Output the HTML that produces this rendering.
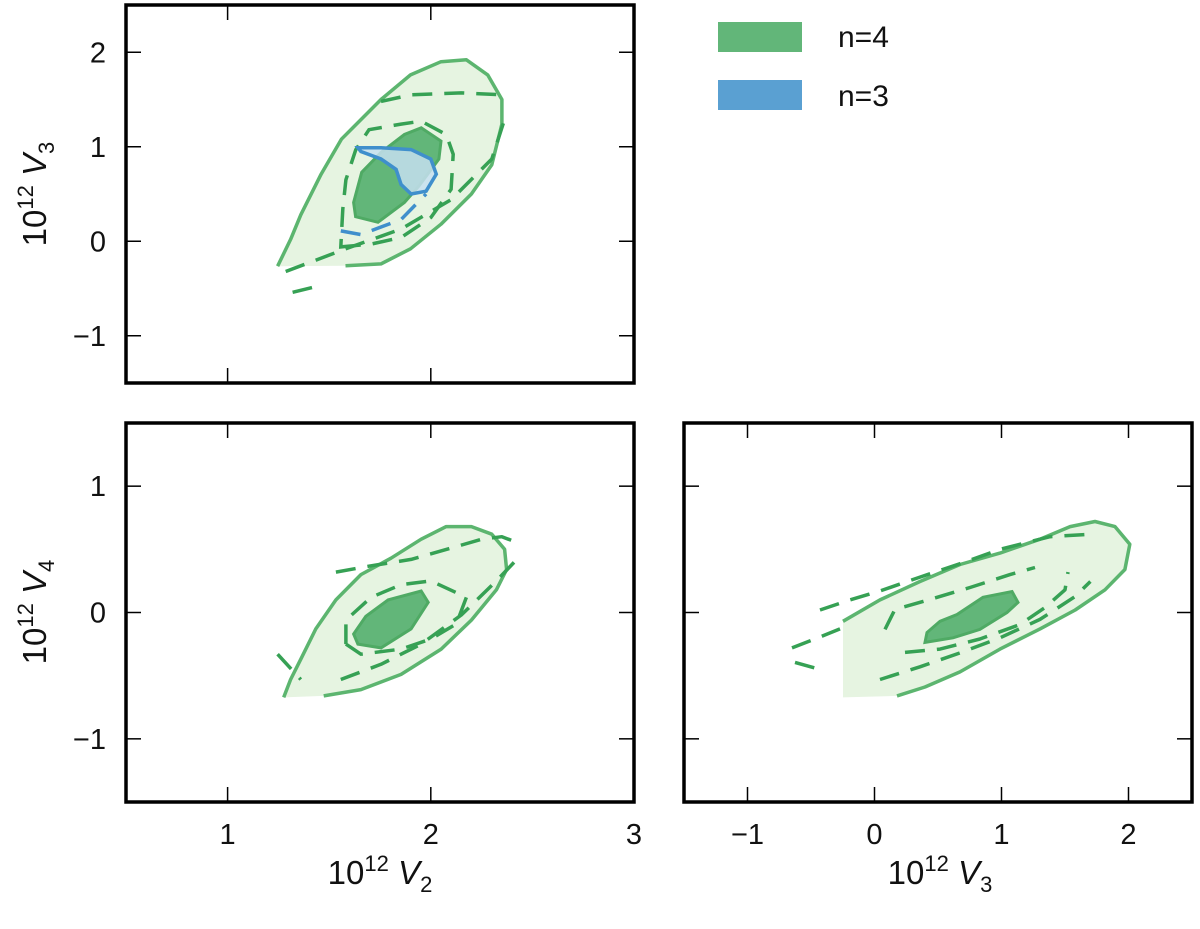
<!DOCTYPE html>
<html><head><meta charset="utf-8"><style>
html,body{margin:0;padding:0;background:#fff}
svg{display:block}
text{font-family:"Liberation Sans","DejaVu Sans",sans-serif;fill:#111}
</style></head><body>
<svg id="chart" width="1200" height="929" viewBox="0 0 1200 929" xmlns="http://www.w3.org/2000/svg"></svg>
<script>
// ---- data (data coordinates) ----
const tlXTicks=[1,2,3], tlYTicks=[-1,0,1,2];
const blXTicks=[1,2,3], blYTicks=[-1,0,1];
const brXTicks=[-1,0,1,2], brYTicks=[-1,0,1];
const xTickLabels=["1","2","3"], yTickLabelsTop=["\u22121","0","1","2"], yTickLabelsBot=["\u22121","0","1"], brXTickLabels=["\u22121","0","1","2"];

const tlOuterX=[1.246,1.31,1.36,1.46,1.56,1.755,1.90,2.05,2.175,2.28,2.35,2.35,2.30,2.20,2.05,1.90,1.755,1.58];
const tlOuterY=[-0.264,0.02,0.28,0.71,1.08,1.50,1.76,1.90,1.92,1.76,1.50,1.24,0.81,0.50,0.18,-0.08,-0.24,-0.26];
const tlInnerX=[1.953,2.05,2.04,1.94,1.87,1.74,1.63,1.62,1.66,1.755,1.87];
const tlInnerY=[1.20,1.06,0.87,0.58,0.41,0.20,0.26,0.41,0.73,0.94,1.13];
const tlDashAX=[1.286,1.582,1.854,2.10,2.30,2.363], tlDashAY=[-0.32,-0.08,0.13,0.44,0.87,1.29];
const tlDashBX=[1.32,1.434], tlDashBY=[-0.54,-0.48];
const tlDashCX=[1.755,1.903,2.15,2.35], tlDashCY=[1.48,1.55,1.57,1.55];
const tlRingX=[1.557,1.706,1.854,2.0,2.10,2.11,2.076,1.953,1.854,1.696,1.631,1.582,1.567,1.557];
const tlRingY=[-0.06,-0.03,0.04,0.25,0.55,0.92,1.13,1.27,1.24,1.18,0.97,0.65,0.34,-0.06];
const tlBlueX=[1.641,1.755,1.903,2.0,2.027,1.977,1.903,1.854,1.829,1.755,1.656];
const tlBlueY=[0.99,0.99,0.97,0.87,0.71,0.53,0.50,0.60,0.76,0.87,0.95];
const tlBlueDashX=[1.557,1.656,1.854,1.977], tlBlueDashY=[0.11,0.07,0.23,0.50];

const blOuterX=[1.276,1.31,1.36,1.434,1.533,1.656,1.804,1.953,2.076,2.20,2.30,2.363,2.373,2.323,2.20,2.051,1.854,1.656,1.473];
const blOuterY=[-0.672,-0.53,-0.37,-0.13,0.10,0.30,0.43,0.58,0.68,0.68,0.62,0.50,0.34,0.18,-0.06,-0.29,-0.49,-0.61,-0.66];
const blInnerX=[1.953,1.987,1.903,1.755,1.641,1.62,1.68,1.79];
const blInnerY=[0.17,0.08,-0.13,-0.28,-0.25,-0.17,-0.03,0.10];
const blDashAX=[1.533,1.706,1.903,2.10,2.25,2.35,2.447], blDashAY=[0.32,0.37,0.42,0.51,0.58,0.60,0.54];
const blDashBX=[1.557,1.755,1.953,2.15,2.323,2.447], blDashBY=[-0.53,-0.41,-0.25,-0.02,0.25,0.46];
const blRingX=[1.582,1.656,1.854,2.0,2.126,2.175,2.0,1.854,1.706,1.582,1.582];
const blRingY=[-0.25,-0.33,-0.29,-0.21,-0.09,0.12,0.25,0.22,0.12,-0.06,-0.25];
const blDashCX=[1.246,1.36], blDashCY=[-0.33,-0.53];

const brOuterX=[-0.248,-0.248,0.043,0.358,0.673,0.988,1.303,1.54,1.736,1.894,2.01,1.972,1.815,1.58,1.303,0.988,0.673,0.398,0.177];
const brOuterY=[-0.672,-0.07,0.10,0.245,0.38,0.47,0.58,0.68,0.72,0.68,0.54,0.34,0.18,0.02,-0.13,-0.29,-0.47,-0.59,-0.66];
const brInnerX=[1.083,1.13,1.043,0.83,0.618,0.398,0.413,0.516,0.65,0.854];
const brInnerY=[0.166,0.08,0,-0.134,-0.2,-0.237,-0.158,-0.07,-0.016,0.12];
const brDashAX=[-0.429,-0.193,0.043,0.358,0.713,0.988,1.382,1.70], brDashAY=[0.02,0.10,0.17,0.28,0.40,0.50,0.60,0.62];
const brDashBX=[0.043,0.358,0.673,0.988,1.303,1.579,1.70], brDashBY=[-0.53,-0.43,-0.32,-0.20,-0.055,0.126,0.245];
const brDashCX=[0.083,0.161,0.437,0.752,1.067,1.264], brDashCY=[-0.134,0.024,0.103,0.198,0.30,0.356];
const brDashDX=[0.24,0.516,0.83,1.146,1.343,1.5,1.524], brDashDY=[-0.316,-0.29,-0.21,-0.095,0.04,0.18,0.32];
const brDashEX=[-0.65,-0.469,-0.272], brDashEY=[-0.28,-0.21,-0.13];
const brDashFX=[-0.626,-0.429], brDashFY=[-0.395,-0.45];

// ---- drawing ----
const svg=document.getElementById('chart');
const NS='http://www.w3.org/2000/svg';
function mk(tag,attrs,parent){const e=document.createElementNS(NS,tag);for(const k in attrs)e.setAttribute(k,attrs[k]);(parent||svg).appendChild(e);return e;}
function panel(name,L,T,R,B,x0,x1,y0,y1){
  const g=mk('g',{});
  
  
  const sx=v=>L+(v-x0)/(x1-x0)*(R-L), sy=v=>B-(v-y0)/(y1-y0)*(B-T);
  return {g,sx,sy,L,T,R,B};
}
function pts(p,xs,ys){return xs.map((x,i)=>p.sx(x).toFixed(1)+','+p.sy(ys[i]).toFixed(1)).join(' ');}
function poly(p,xs,ys,style,name){const e=mk('polygon',Object.assign({points:pts(p,xs,ys)},style),p.g);return e;}
function line(p,xs,ys,style,name){const e=mk('polyline',Object.assign({points:pts(p,xs,ys),fill:'none','stroke-linejoin':'round'},style),p.g);return e;}
const lightFill={fill:'#e6f4e1',stroke:'none'};
const outerLine={stroke:'#5cb56f','stroke-width':3.5};
const darkFill={fill:'#62b679',stroke:'#4faa64','stroke-width':3};
const dashSt={stroke:'#36a154','stroke-width':3.5,'stroke-dasharray':'20 12'};
function outer(p,xs,ys){
  poly(p,xs,ys,lightFill,'outer-contour-fill');
  line(p,xs,ys,outerLine,'outer-contour-line');
}
function frame(p,xt,xl,yt,yl,showX,showY){
  xt.forEach((v,i)=>{const x=p.sx(v);
    mk('line',{x1:x,y1:p.B,x2:x,y2:p.B-15,stroke:'#000','stroke-width':1.5},p.g);
    mk('line',{x1:x,y1:p.T,x2:x,y2:p.T+15,stroke:'#000','stroke-width':1.5},p.g);
    if(showX){const t=mk('text',{x:x,y:p.B+42,'font-size':29,'text-anchor':'middle'},p.g);t.textContent=xl[i];}
  });
  yt.forEach((v,i)=>{const y=p.sy(v);
    mk('line',{x1:p.L,y1:y,x2:p.L+15,y2:y,stroke:'#000','stroke-width':1.5},p.g);
    mk('line',{x1:p.R,y1:y,x2:p.R-15,y2:y,stroke:'#000','stroke-width':1.5},p.g);
    if(showY){const t=mk('text',{x:p.L-20,y:y+10,'font-size':29,'text-anchor':'end'},p.g);t.textContent=yl[i];}
  });
  const r=mk('rect',{x:p.L,y:p.T,width:p.R-p.L,height:p.B-p.T,fill:'none',stroke:'#000','stroke-width':3.5},p.g);
  
}

// top-left
const A=panel('panel-v2-v3',126,5,634,383,0.5,3,-1.5,2.5);
outer(A,tlOuterX,tlOuterY);
line(A,tlDashAX,tlDashAY,dashSt,'dashed-contour');
line(A,tlDashBX,tlDashBY,dashSt,'dashed-contour');
line(A,tlDashCX,tlDashCY,dashSt,'dashed-contour');
poly(A,tlInnerX,tlInnerY,darkFill,'inner-contour');
poly(A,tlRingX,tlRingY,Object.assign({fill:'none'},dashSt),'dashed-contour-ring');
poly(A,tlBlueX,tlBlueY,{fill:'#c6dff0','fill-opacity':0.85,stroke:'#3f8fcc','stroke-width':3.5},'blue-contour');
line(A,tlBlueDashX,tlBlueDashY,{stroke:'#3f8fcc','stroke-width':3.5,'stroke-dasharray':'20 12'},'blue-dashed-contour');
frame(A,tlXTicks,xTickLabels,tlYTicks,yTickLabelsTop,false,true);

// bottom-left
const B=panel('panel-v2-v4',126,423,634,802,0.5,3,-1.5,1.5);
outer(B,blOuterX,blOuterY);
line(B,blDashAX,blDashAY,dashSt,'dashed-contour');
line(B,blDashBX,blDashBY,dashSt,'dashed-contour');
line(B,blDashCX,blDashCY,dashSt,'dashed-contour');
line(B,blRingX,blRingY,dashSt,'dashed-contour-ring');
poly(B,blInnerX,blInnerY,darkFill,'inner-contour');
frame(B,blXTicks,xTickLabels,blYTicks,yTickLabelsBot,true,true);

// bottom-right
const C=panel('panel-v3-v4',684,423,1192,802,-1.5,2.5,-1.5,1.5);
poly(C,brOuterX,brOuterY,lightFill,'outer-contour-fill');
line(C,brOuterX.slice(1),brOuterY.slice(1),outerLine,'outer-contour-line');
[[brDashAX,brDashAY],[brDashBX,brDashBY],[brDashCX,brDashCY],[brDashDX,brDashDY],[brDashEX,brDashEY],[brDashFX,brDashFY]].forEach(d=>line(C,d[0],d[1],dashSt,'dashed-contour'));
poly(C,brInnerX,brInnerY,darkFill,'inner-contour');
frame(C,brXTicks,brXTickLabels,brYTicks,yTickLabelsBot,true,false);
</script>
<svg style="position:absolute;left:0;top:0" width="1200" height="929">
  <g transform="translate(46,194) rotate(-90)">
    <text x="0" y="0" font-size="33" text-anchor="middle" style="font-family:'Liberation Sans',sans-serif">10<tspan dy="-13" font-size="22">12</tspan><tspan dy="13" font-style="italic"> V</tspan><tspan dy="8" font-size="22">3</tspan></text>
  </g>
  <g transform="translate(46,612) rotate(-90)">
    <text x="0" y="0" font-size="33" text-anchor="middle" style="font-family:'Liberation Sans',sans-serif">10<tspan dy="-13" font-size="22">12</tspan><tspan dy="13" font-style="italic"> V</tspan><tspan dy="8" font-size="22">4</tspan></text>
  </g>
  <text x="380" y="884" font-size="33" text-anchor="middle" style="font-family:'Liberation Sans',sans-serif">10<tspan dy="-13" font-size="22">12</tspan><tspan dy="13" font-style="italic"> V</tspan><tspan dy="8" font-size="22">2</tspan></text>
  <text x="940" y="884" font-size="33" text-anchor="middle" style="font-family:'Liberation Sans',sans-serif">10<tspan dy="-13" font-size="22">12</tspan><tspan dy="13" font-style="italic"> V</tspan><tspan dy="8" font-size="22">3</tspan></text>
  <g>
    <rect x="718" y="22" width="84" height="30" fill="#62b679"/>
    <text x="838" y="47" font-size="30" style="font-family:'Liberation Sans',sans-serif">n=4</text>
    <rect x="718" y="80" width="84" height="30" fill="#5aa0d2"/>
    <text x="838" y="106" font-size="30" style="font-family:'Liberation Sans',sans-serif">n=3</text>
  </g>
</svg>
</body></html>
